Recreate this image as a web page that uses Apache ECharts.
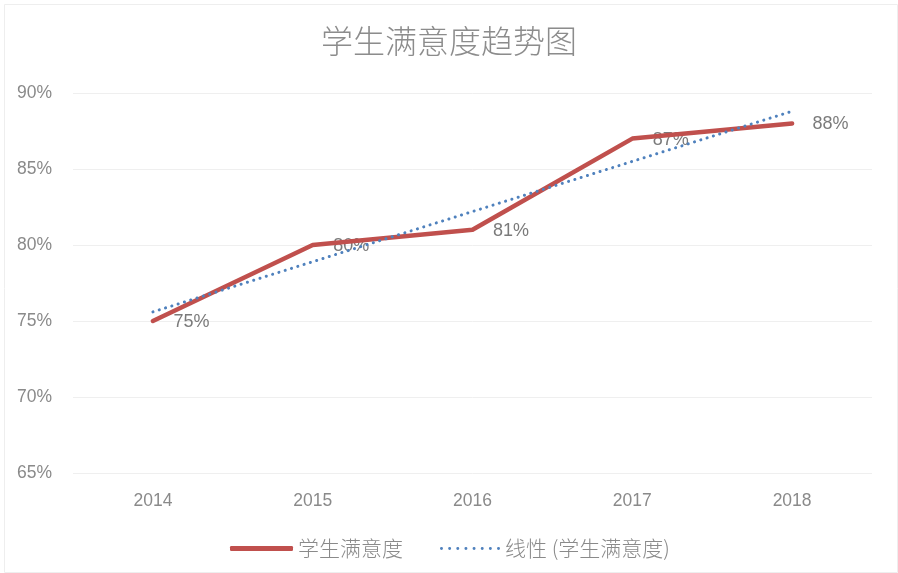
<!DOCTYPE html>
<html>
<head>
<meta charset="utf-8">
<script src="https://cdn.jsdelivr.net/npm/echarts@6/dist/echarts.min.js"></script>
<style>html,body{margin:0;padding:0;background:#fff}#c{width:898px;height:573px}</style>
</head>
<body>
<div id="c"></div>
<script>
const titleText = '学生满意度趋势图';
const categories = ['2014', '2015', '2016', '2017', '2018'];
const satisfaction = [75, 80, 81, 87, 88];
const trendValues = [75.6, 78.9, 82.2, 85.5, 88.8];
const seriesNames = ['学生满意度', '线性 (学生满意度)'];

const chart = echarts.init(document.getElementById('c'), null, {renderer: 'canvas'});
const latin = 'Liberation Sans, "Noto Sans CJK SC", sans-serif';
const cjk = '"Noto Sans CJK SC", sans-serif';
const legendText = {fontFamily: cjk, fontSize: 21, fontWeight: 300, color: '#8a8a8a'};
let dots = 'path://';
for (let i = 0; i < 8; i++) {
  const cx = 1.5 + i * 8.2;
  dots += 'M' + (cx - 1.5) + ',1.5 a1.5,1.5 0 1,0 3,0 a1.5,1.5 0 1,0 -3,0 ';
}
chart.setOption({
  animation: false,
  backgroundColor: '#ffffff',
  graphic: [{
    type: 'rect', left: 2, top: 2,
    shape: {width: 893, height: 568},
    style: {fill: 'none', stroke: '#eeeeee', lineWidth: 1},
    silent: true
  }],
  title: {
    text: titleText, left: 'center', top: 20,
    textStyle: {fontFamily: cjk, fontSize: 32, fontWeight: 300, color: '#8c8c8c'}
  },
  legend: [{
    top: 533, left: 225,
    itemWidth: 63, itemHeight: 5,
    textStyle: legendText,
    data: [{name: seriesNames[0], icon: 'roundRect', itemStyle: {color: '#C0504D'}}]
  }, {
    top: 533, left: 435,
    itemWidth: 60, itemHeight: 3,
    textStyle: legendText,
    data: [{name: seriesNames[1], icon: dots, itemStyle: {color: '#4F81BD'}}]
  }],
  grid: {left: 73, right: 26, top: 93, bottom: 100, containLabel: false},
  xAxis: {
    type: 'category', data: categories, boundaryGap: true,
    axisLine: {show: false}, axisTick: {show: false},
    axisLabel: {fontFamily: latin, fontSize: 17.5, color: '#8a8a8a', margin: 19}
  },
  yAxis: {
    type: 'value', min: 65, max: 90, interval: 5,
    axisLine: {show: false}, axisTick: {show: false},
    splitLine: {lineStyle: {color: '#efefef', width: 1}},
    axisLabel: {fontFamily: latin, fontSize: 17.5, color: '#8a8a8a', margin: 21, formatter: '{value}%'}
  },
  series: [{
    name: seriesNames[0], type: 'line', data: satisfaction,
    symbol: 'none', smooth: false,
    lineStyle: {color: '#C0504D', width: 4.5, cap: 'round', join: 'round'},
    itemStyle: {color: '#C0504D'},
    z: 3
  }, {
    name: seriesNames[1], type: 'line', data: trendValues,
    symbol: 'none',
    lineStyle: {color: '#4F81BD', width: 3, type: [0.1, 6.5], cap: 'round'},
    itemStyle: {color: '#4F81BD'},
    z: 4
  }, {
    name: 'labels', type: 'scatter', data: satisfaction,
    symbolSize: 1, itemStyle: {color: 'rgba(0,0,0,0)'},
    label: {show: true, position: 'right', distance: 20, offset: [0, 1], formatter: '{c}%',
      fontFamily: latin, fontSize: 18, color: '#595959'},
    silent: true, z: 2
  }]
});
</script>
</body>
</html>
